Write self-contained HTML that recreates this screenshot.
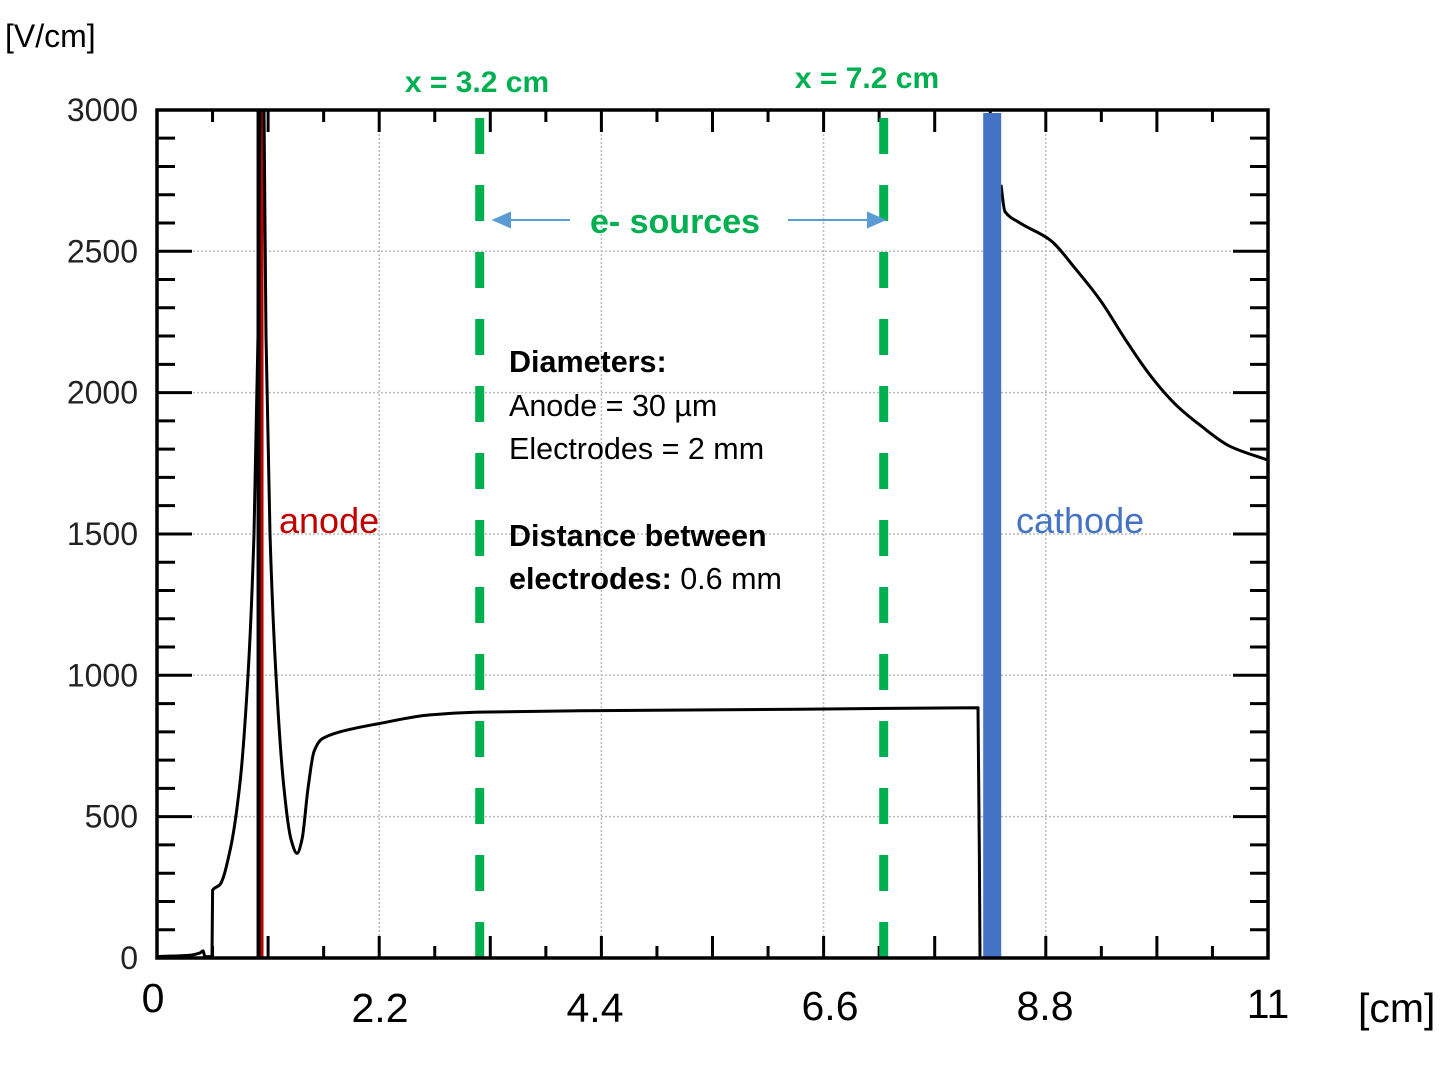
<!DOCTYPE html>
<html><head><meta charset="utf-8"><style>
html,body{margin:0;padding:0;background:#fff;}
svg{display:block;font-family:"Liberation Sans",sans-serif;}
</style></head><body>
<svg width="1440" height="1080" viewBox="0 0 1440 1080">
<defs><clipPath id="pc"><rect x="157" y="110" width="1111" height="848"/></clipPath></defs>
<g id="grid"></g>
<g id="ticks"></g>
<g id="marks" clip-path="url(#pc)"></g>
<rect x="157" y="110" width="1111" height="848" fill="none" stroke="#000" stroke-width="3.5"/>
<g id="labels"></g>
<text x="5" y="47" font-size="32" fill="#000">[V/cm]</text>
<text x="1358" y="1022" font-size="41" fill="#000">[cm]</text>
<text x="477" y="92" font-size="30" font-weight="bold" fill="#00b050" text-anchor="middle">x = 3.2 cm</text>
<text x="867" y="88" font-size="30" font-weight="bold" fill="#00b050" text-anchor="middle">x = 7.2 cm</text>
<text x="675" y="233" font-size="34" font-weight="bold" fill="#00b050" text-anchor="middle">e- sources</text>
<g stroke="#5b9bd5" stroke-width="2" fill="#5b9bd5">
<line x1="570" y1="220" x2="505" y2="220"/><polygon points="494,220 510,213 510,227"/>
<line x1="788" y1="220" x2="872" y2="220"/><polygon points="884,220 868,213 868,227"/>
</g>
<g font-size="30.5" fill="#000">
<text x="509" y="372" font-weight="bold">Diameters:</text>
<text x="509" y="416">Anode = 30 µm</text>
<text x="509" y="459">Electrodes = 2 mm</text>
<text x="509" y="546" font-weight="bold">Distance between</text>
<text x="509" y="589"><tspan font-weight="bold">electrodes:</tspan> 0.6 mm</text>
</g>
<text x="279" y="533" font-size="36" fill="#c00000">anode</text>
<text x="1016" y="533" font-size="36" fill="#4472c4">cathode</text>
</svg>
<script>
const xTickLabels=["0","2.2","4.4","6.6","8.8","11"];
const xLabelPx=[153,380,595,830,1045,1268];
const xLabelBase=[1012,1022,1022,1020,1020,1018];
const yTicks=[0,500,1000,1500,2000,2500,3000];
const curveAX=[0,0.327,0.426,0.455,0.475,0.545,0.550,0.624,0.723,0.822,0.901,0.960,1.0,1.020,1.040,1.059,1.079,1.119,1.178,1.257,1.327,1.386,1.436,1.495,1.554,1.634,1.812,2.208,2.703,3.198,4.386,6.366,8.129,8.149];
const curveAY=[5,10,18,25,5,5,240,260,380,620,1000,1500,2200,3000,3300,3000,2200,1500,1000,600,420,370,420,600,730,775,800,830,860,870,875,880,885,0];
const curveBX=[8.356,8.396,8.545,8.842,9.089,9.337,9.584,9.832,10.079,10.327,10.624,11];
const curveBY=[2735,2640,2600,2540,2440,2328,2190,2062,1960,1885,1810,1761];
const anodeX=1.04, sourceXs=[3.2,7.2], cathodeX=8.2;
const X=v=>157+v*101, Y=v=>958-v*0.2827;
const NS="http://www.w3.org/2000/svg";
function mk(p,tag,a){const e=document.createElementNS(NS,tag);for(const k in a)e.setAttribute(k,a[k]);p.appendChild(e);return e;}
const grid=document.getElementById('grid'),ticks=document.getElementById('ticks'),marks=document.getElementById('marks'),labels=document.getElementById('labels');
for(let i=4;i<20;i+=4){const g=mk(grid,'line',{x1:157+i*55.55,x2:157+i*55.55,y1:110,y2:958,stroke:'#bbb','stroke-width':1.5,'stroke-dasharray':'2 2'});

}
for(const v of yTicks.slice(1,6)){const g=mk(grid,'line',{x1:157,x2:1268,y1:Y(v),y2:Y(v),stroke:'#bbb','stroke-width':1.5,'stroke-dasharray':'2 2'});

}
for(let i=1;i<20;i++){const x=157+i*55.55,L=i%2==0?22:12;
const t=mk(ticks,'line',{x1:x,x2:x,y1:110,y2:110+L,stroke:'#000','stroke-width':3});


const b=mk(ticks,'line',{x1:x,x2:x,y1:958,y2:958-L,stroke:'#000','stroke-width':3});

}
for(let v=100;v<3000;v+=100){const L=v%500==0?35:18;
const t=mk(ticks,'line',{x1:157,x2:157+L,y1:Y(v),y2:Y(v),stroke:'#000','stroke-width':3});


const r=mk(ticks,'line',{x1:1268,x2:1268-L,y1:Y(v),y2:Y(v),stroke:'#000','stroke-width':3});

}
yTicks.forEach(v=>{const t=mk(labels,'text',{x:138,y:Y(v)+11,'font-size':32,'text-anchor':'end',fill:'#222'});t.textContent=v;

});
xTickLabels.forEach((s,i)=>{const t=mk(labels,'text',{x:xLabelPx[i],y:xLabelBase[i],'font-size':41,'text-anchor':'middle',fill:'#000'});t.textContent=s;

});
const aw=mk(marks,'line',{x1:X(anodeX)-3,x2:X(anodeX)-3,y1:110,y2:958,stroke:'#000','stroke-width':5});


const ar=mk(marks,'line',{x1:X(anodeX),x2:X(anodeX),y1:110,y2:958,stroke:'#c00000','stroke-width':3});


sourceXs.forEach(s=>{const l=mk(marks,'line',{x1:X(s)-0.5,x2:X(s)-0.5,y1:118,y2:958,stroke:'#00b050','stroke-width':9,'stroke-dasharray':'36 31'});

});
function path(xs,ys){
  const px=xs.map(X),py=ys.map(Y),n=px.length,d=[],m=[];
  for(let i=0;i<n-1;i++)d.push((py[i+1]-py[i])/(px[i+1]-px[i]));
  m[0]=d[0];m[n-1]=d[n-2];
  for(let i=1;i<n-1;i++)m[i]=(d[i-1]*d[i]<=0)?0:(2/(1/d[i-1]+1/d[i]));
  let s='M'+px[0].toFixed(1)+' '+py[0].toFixed(1);
  for(let i=0;i<n-1;i++){const h=(px[i+1]-px[i])/3;
    s+=' C'+(px[i]+h).toFixed(1)+' '+(py[i]+m[i]*h).toFixed(1)+' '+(px[i+1]-h).toFixed(1)+' '+(py[i+1]-m[i+1]*h).toFixed(1)+' '+px[i+1].toFixed(1)+' '+py[i+1].toFixed(1);}
  return s;}
const pa=mk(marks,'path',{d:path(curveAX,curveAY),fill:'none',stroke:'#000','stroke-width':3,'stroke-linejoin':'round'});


const pb=mk(marks,'path',{d:path(curveBX,curveBY),fill:'none',stroke:'#000','stroke-width':3,'stroke-linejoin':'round'});


const cb=mk(marks,'rect',{x:X(cathodeX)-2,y:113,width:18,height:845,fill:'#4472c4'});


</script>
</body></html>
